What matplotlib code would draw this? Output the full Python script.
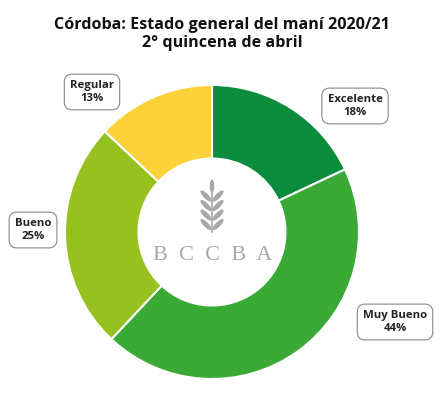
import matplotlib
matplotlib.use("Agg")
import matplotlib.pyplot as plt
from matplotlib.patches import Ellipse

categories = ["Excelente", "Muy Bueno", "Bueno", "Regular"]
values = [18, 44, 25, 13]
colors = ["#0a8c3c", "#3aa935", "#96c11f", "#fdd13a"]
label_pos = [(355, 106), (395, 322), (33, 230), (92, 92)]
title = "Córdoba: Estado general del maní 2020/21\n2° quincena de abril"

W, H = 444, 397
fig = plt.figure(figsize=(W / 100, H / 100), dpi=100)
ax = fig.add_axes([0, 0, 1, 1])

cx, cy, R = 212, H - 232, 147
ax.pie(values, colors=colors, startangle=90, counterclock=False,
       center=(cx, cy), radius=R,
       wedgeprops=dict(width=R * 0.5, edgecolor="white", linewidth=1.5))
ax.set_xlim(0, W)
ax.set_ylim(0, H)
ax.set_aspect("auto")
ax.axis("off")

fig.text(0.5, 1 - 34 / H, title, ha="center", va="center",
         fontsize=11.6, fontweight="bold", family="Open Sans",
         linespacing=1.2, color="#111111")

for cat, v, (x, y) in zip(categories, values, label_pos):
    ax.text(x, H - y, f"{cat}\n{v}%", ha="center", va="center",
            fontsize=8.2, fontweight="bold", family="Open Sans",
            color="#222222", linespacing=1.3,
            bbox=dict(boxstyle="round,pad=0.5,rounding_size=0.7",
                      fc="white", ec="#888888", lw=0.8))

# BCCBA logo
gray = "#a8a8a8"
sx, sy0, sy1 = 212, H - 232, H - 182
ax.plot([sx, sx], [sy0, sy1 - 6], color=gray, lw=1.2)
for i in range(4):
    yy = sy1 - 14 - i * 9.5
    for sgn in (-1, 1):
        ax.add_patch(Ellipse((sx + sgn * 6, yy), 15, 5, angle=sgn * 45,
                             fc=gray, ec="none"))
ax.add_patch(Ellipse((sx, sy1 - 4), 4.5, 13, fc=gray, ec="none"))
ax.text(213, H - 256, "B  C  C  B  A", ha="center", va="center",
        fontsize=16, family="Liberation Serif", color=gray)

fig.savefig("out.png", dpi=100)
